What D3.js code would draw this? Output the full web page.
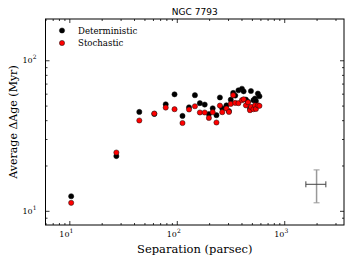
<!DOCTYPE html>
<html>
<head>
<meta charset="utf-8">
<script src="https://cdn.jsdelivr.net/npm/d3@7"></script>
<style>
    body { margin: 0; background: #fff; }
    .chart text { font-family: "DejaVu Serif", serif; fill: #000; }
    .chart .title { font-family: "DejaVu Sans", sans-serif; }
</style>
</head>
<body>
<div class="chart"></div>
<script>

// separation between pairs (parsec) and the average age difference (Myr)
const separation    = [10.4, 27.4, 44.8, 61.8, 78.9, 95.3, 113, 130, 147.5, 164, 182, 199, 216, 234, 252, 265, 290, 306, 318, 335, 350, 375, 404, 419, 440, 460, 480, 490, 517, 534, 545, 569, 588];
const deterministic = [12.5, 23.1, 45.4, 44.0, 51.0, 59.4, 42.7, 48.7, 58.6, 51.9, 50.8, 43.9, 48.0, 43.2, 56.6, 48.0, 50.2, 46.0, 54.7, 60.7, 58.3, 63.2, 64.7, 62.2, 54.8, 53.0, 48.0, 62.5, 54.3, 55.7, 53.7, 60.1, 57.7];
const stochastic    = [11.3, 24.4, 39.8, 44.3, 48.5, 47.3, 38.3, 47.1, 49.5, 45.0, 45.0, 41.4, 45.2, 38.6, 50.0, 45.2, 47.8, 45.4, 51.3, 58.6, 52.1, 51.9, 54.3, 55.1, 50.2, 52.6, 46.6, 49.0, 47.3, 50.2, 47.5, 50.2, 49.8];

const seriesNames = ["Deterministic", "Stochastic"];
const seriesColors = ["#000000", "#ff0000"];

const xMajorTicks = [10, 100, 1000];
const yMajorTicks = [10, 100];

// typical uncertainty drawn in the lower right corner
const errCenter = [2000, 15];
const errX = [1590, 2440];
const errY = [11.3, 18.7];

class ScatterChart {

    constructor(parentElement) {
        this.parentElement = parentElement;
        this.initVis();
    }

    initVis() {
        let vis = this;
        vis.margin = {top: 19, right: 8, bottom: 39, left: 45.5};
        vis.width = 352 - vis.margin.left - vis.margin.right;
        vis.height = 264 - vis.margin.top - vis.margin.bottom;

        vis.root = d3.select("." + vis.parentElement).append("svg")
            .attr("width", 352)
            .attr("height", 264);

        vis.svg = vis.root.append("g")
            .attr("transform", `translate(${vis.margin.left}, ${vis.margin.top})`);

        vis.x = d3.scaleLog().domain([6, 3600]).range([0, vis.width]);
        vis.y = d3.scaleLog().domain([8.05, 188]).range([vis.height, 0]);

        vis.wrangleData();
    }

    wrangleData() {
        let vis = this;
        vis.displayData = seriesNames.map((name, i) => ({
            name: name,
            color: seriesColors[i],
            values: separation.map((s, j) => ({sep: s, age: i === 0 ? deterministic[j] : stochastic[j]}))
        }));

        // minor ticks for the log axes
        vis.minor = function (domain, majors) {
            let out = [];
            [1, 10, 100, 1000].forEach(dec => {
                for (let m = 2; m <= 9; m++) {
                    let v = m * dec;
                    if (v >= domain[0] && v <= domain[1] && !majors.includes(v)) out.push(v);
                }
            });
            return out;
        };

        vis.updateVis();
    }

    updateVis() {
        let vis = this;

        let xMinor = vis.minor(vis.x.domain(), xMajorTicks);
        let yMinor = vis.minor(vis.y.domain(), yMajorTicks);

        // ticks on all four sides, pointing inwards
        let axes = [
            {gen: d3.axisBottom, scale: vis.x, pos: `translate(0,${vis.height})`, major: xMajorTicks, minor: xMinor},
            {gen: d3.axisTop, scale: vis.x, pos: "translate(0,0)", major: xMajorTicks, minor: xMinor},
            {gen: d3.axisLeft, scale: vis.y, pos: "translate(0,0)", major: yMajorTicks, minor: yMinor},
            {gen: d3.axisRight, scale: vis.y, pos: `translate(${vis.width},0)`, major: yMajorTicks, minor: yMinor}
        ];
        axes.forEach(a => {
            vis.svg.append("g").attr("transform", a.pos)
                .call(a.gen(a.scale).tickValues(a.minor).tickSize(-2).tickFormat(""))
                .call(g => g.select(".domain").remove());
            vis.svg.append("g").attr("transform", a.pos)
                .call(a.gen(a.scale).tickValues(a.major).tickSize(-4).tickFormat(""))
                .call(g => g.select(".domain").remove());
        });
        vis.svg.selectAll(".tick line").attr("stroke", "#000").attr("stroke-width", 0.8);

        // frame
        vis.svg.append("rect")
            .attr("width", vis.width)
            .attr("height", vis.height)
            .attr("fill", "none")
            .attr("stroke", "#000")
            .attr("stroke-width", 1);

        // tick labels like 10^1
        function powerLabel(sel) {
            sel.append("tspan").text("10");
            sel.append("tspan")
                .attr("dy", -4)
                .style("font-size", "6px")
                .text(d => Math.round(Math.log10(d)));
        }
        vis.svg.selectAll(".xlab")
            .data(xMajorTicks).enter()
            .append("text")
            .attr("x", d => vis.x(d) - 3)
            .attr("y", vis.height + 12)
            .attr("text-anchor", "middle")
            .style("font-size", "8px")
            .call(powerLabel);
        vis.svg.selectAll(".ylab")
            .data(yMajorTicks).enter()
            .append("text")
            .attr("x", -16)
            .attr("y", d => vis.y(d) + 3)
            .attr("text-anchor", "middle")
            .style("font-size", "8px")
            .call(powerLabel);

        // axis titles
        vis.svg.append("text")
            .attr("x", vis.width / 2)
            .attr("y", vis.height + 27.5)
            .attr("text-anchor", "middle")
            .style("font-size", "11.5px")
            .text("Separation (parsec)");
        vis.svg.append("text")
            .attr("transform", `translate(${-29},${vis.height / 2}) rotate(-90)`)
            .attr("text-anchor", "middle")
            .style("font-size", "11px")
            .text("Average \u0394Age (Myr)");
        vis.svg.append("text")
            .attr("class", "title")
            .attr("x", vis.width / 2)
            .attr("y", -4)
            .attr("text-anchor", "middle")
            .style("font-size", "9px")
            .text("NGC 7793");

        // error bar
        let eb = vis.svg.append("g");
        eb.append("line")
            .attr("x1", vis.x(errCenter[0])).attr("x2", vis.x(errCenter[0]))
            .attr("y1", vis.y(errY[0])).attr("y2", vis.y(errY[1]))
            .attr("stroke", "#999").attr("stroke-width", 1.5);
        errY.forEach(v => eb.append("line")
            .attr("x1", vis.x(errCenter[0]) - 3).attr("x2", vis.x(errCenter[0]) + 3)
            .attr("y1", vis.y(v)).attr("y2", vis.y(v))
            .attr("stroke", "#999").attr("stroke-width", 1));
        eb.append("line")
            .attr("x1", vis.x(errX[0])).attr("x2", vis.x(errX[1]))
            .attr("y1", vis.y(errCenter[1])).attr("y2", vis.y(errCenter[1]))
            .attr("stroke", "#444").attr("stroke-width", 1);
        errX.forEach(v => eb.append("line")
            .attr("x1", vis.x(v)).attr("x2", vis.x(v))
            .attr("y1", vis.y(errCenter[1]) - 3).attr("y2", vis.y(errCenter[1]) + 3)
            .attr("stroke", "#444").attr("stroke-width", 1));

        // points, stochastic drawn on top
        vis.svg.selectAll(".series")
            .data(vis.displayData).enter()
            .append("g")
            .each(function (s) {
                d3.select(this).selectAll("circle")
                    .data(s.values).enter()
                    .append("circle")
                    .attr("cx", d => vis.x(d.sep))
                    .attr("cy", d => vis.y(d.age))
                    .attr("r", 2.6)
                    .attr("fill", s.color)
                    .attr("stroke", "#111")
                    .attr("stroke-width", 0.5);
            });

        // legend
        let leg = vis.svg.selectAll(".legend")
            .data(vis.displayData).enter()
            .append("g")
            .attr("transform", (d, i) => `translate(16.5,${11.5 + i * 12.5})`);
        leg.append("circle")
            .attr("r", 2.6)
            .attr("fill", d => d.color)
            .attr("stroke", "#111")
            .attr("stroke-width", 0.5);
        leg.append("text")
            .attr("x", 16)
            .attr("y", 3)
            .style("font-size", "8.6px")
            .text(d => d.name);
    }
}

new ScatterChart("chart");
</script>
</body>
</html>
